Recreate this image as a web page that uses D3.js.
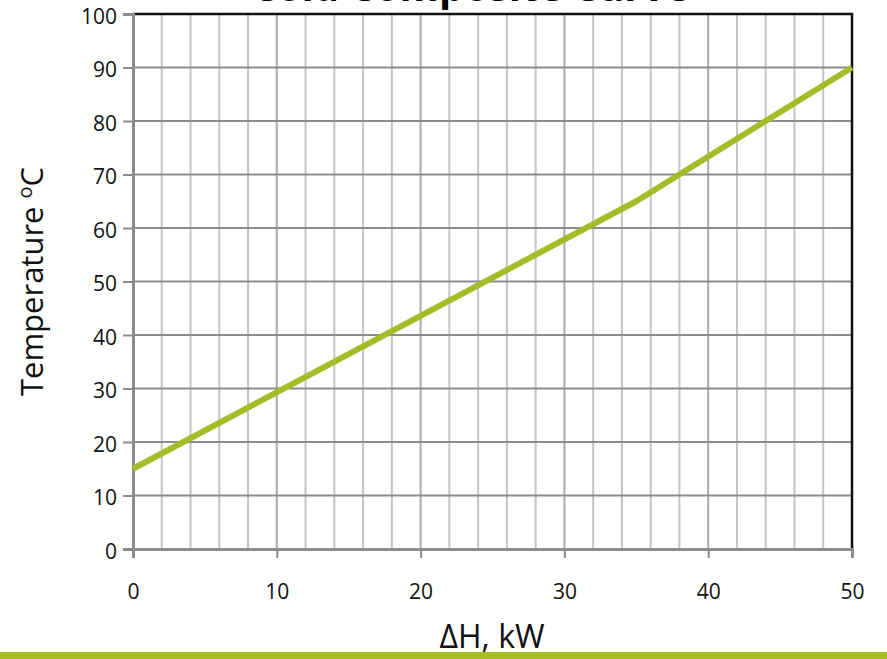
<!DOCTYPE html>
<html lang="en">
<head>
    <meta charset="UTF-8">
    <title>Cold Composite Curve</title>
    <script src="https://d3js.org/d3.v7.min.js"></script>
    <style>
        body { margin: 0; background: #fff; }
        svg { display: block; font-family: "Open Sans", "DejaVu Sans", sans-serif; }
    </style>
</head>
<body>
    <svg width="887" height="659"></svg>

    <script>
        // datos
        const deltaH = [0, 35, 50];
        const temperature = [15, 65, 90];
        const xTicks = [0, 10, 20, 30, 40, 50];
        const yTicks = [0, 10, 20, 30, 40, 50, 60, 70, 80, 90, 100];
        const xMinor = d3.range(0, 51, 2);

        const svg = d3.select("svg"),
            width = +svg.attr("width"),
            height = +svg.attr("height");

        const margin = { top: 14, right: 35, bottom: 110, left: 133 };
        const x = d3.scaleLinear().domain([0, 50]).range([margin.left, width - margin.right]);
        const y = d3.scaleLinear().domain([0, 100]).range([height - margin.bottom, margin.top]);

        // rejilla vertical (menor cada 2)
        svg.append("g").selectAll("line")
            .data(xMinor)
            .enter().append("line")
            .attr("x1", d => x(d)).attr("x2", d => x(d))
            .attr("y1", y(0)).attr("y2", y(100))
            .attr("stroke", d => d % 10 === 0 ? "#ababab" : "#c4c4c4")
            .attr("stroke-width", 2);

        // rejilla horizontal
        svg.append("g").selectAll("line")
            .data(yTicks)
            .enter().append("line")
            .attr("x1", x(0)).attr("x2", x(50))
            .attr("y1", d => y(d)).attr("y2", d => y(d))
            .attr("stroke", "#8c8c8c")
            .attr("stroke-width", 2);

        // borde superior y derecho
        svg.append("path")
            .attr("d", `M${x(0)},${y(100)}H${x(50)}V${y(0)}`)
            .attr("fill", "none")
            .attr("stroke", "#111")
            .attr("stroke-width", 2.5);

        // ejes
        const yAxis = svg.append("g")
            .attr("transform", `translate(${x(0)},0)`)
            .call(d3.axisLeft(y).tickValues(yTicks).tickSize(10).tickPadding(6));
        const xAxis = svg.append("g")
            .attr("transform", `translate(0,${y(0)})`)
            .call(d3.axisBottom(x).tickValues(xTicks).tickSize(9).tickPadding(26));

        [yAxis, xAxis].forEach(a => {
            a.select(".domain").attr("stroke", "#8c8c8c").attr("stroke-width", 3);
            a.selectAll(".tick line").attr("stroke", "#8c8c8c").attr("stroke-width", 2);
            a.selectAll(".tick text")
                .attr("fill", "#111")
                .style("font-size", "21px")
                .style("font-family", "\"Open Sans\", sans-serif");
        });
        yAxis.selectAll(".tick text").attr("dy", "0.45em");

        // curva
        const line = d3.line()
            .x((d, i) => x(deltaH[i]))
            .y((d, i) => y(temperature[i]));

        svg.append("path")
            .datum(deltaH)
            .attr("d", line)
            .attr("fill", "none")
            .attr("stroke", "#a6bb28")
            .attr("stroke-width", 6)
            .attr("stroke-linejoin", "round");

        // título (cortado arriba, como en el original)
        svg.append("text")
            .attr("x", 470)
            .attr("y", 1)
            .attr("text-anchor", "middle")
            .style("font-size", "40px")
            .style("font-weight", "bold")
            .text("Cold Composite Curve");

        // etiquetas de ejes
        const yl = svg.append("text")
            .attr("transform", `translate(43,${(y(0) + y(100)) / 2}) rotate(-90)`)
            .attr("text-anchor", "middle")
            .style("font-size", "31px")
            .attr("fill", "#111");
        yl.append("tspan").text("Temperature ");
        yl.append("tspan").attr("dy", -11).style("font-size", "20px").text("o");
        yl.append("tspan").attr("dy", 11).text("C");

        svg.append("text")
            .attr("x", 492)
            .attr("y", 648)
            .attr("text-anchor", "middle")
            .style("font-size", "32px")
            .attr("fill", "#111")
            .text("ΔH, kW");

        // barra verde inferior
        svg.append("rect")
            .attr("x", 0).attr("y", 652)
            .attr("width", width).attr("height", height - 652)
            .attr("fill", "#a7bc26");
    </script>
</body>
</html>
